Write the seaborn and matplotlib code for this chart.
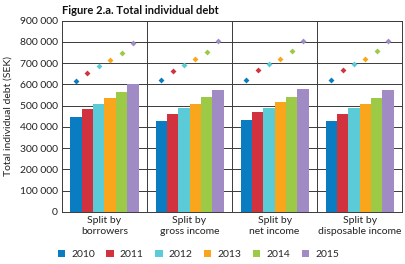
import pandas as pd
import matplotlib.pyplot as plt
import seaborn as sns
from matplotlib.ticker import FuncFormatter

# Data
categories = ['Split by\nborrowers', 'Split by\ngross income',
              'Split by\nnet income', 'Split by\ndisposable income']
years = ['2010', '2011', '2012', '2013', '2014', '2015']
colors = ['#0a7cc1', '#d1323e', '#5ccbd8', '#f9a61c', '#9dca46', '#a08bc4']

# bar values (one list per year, one value per category)
bar_2010 = [449000, 430000, 433000, 430000]
bar_2011 = [485000, 462000, 468000, 462000]
bar_2012 = [507000, 489000, 491000, 487000]
bar_2013 = [534000, 509000, 515000, 507000]
bar_2014 = [562000, 539000, 542000, 536000]
bar_2015 = [600000, 572000, 576000, 573000]

# diamond markers
dot_2010 = [614000, 620000, 622000, 622000]
dot_2011 = [655000, 664000, 666000, 666000]
dot_2012 = [685000, 691000, 696000, 697000]
dot_2013 = [713000, 720000, 721000, 721000]
dot_2014 = [746000, 754000, 757000, 756000]
dot_2015 = [793000, 802000, 802000, 802000]

bars = [bar_2010, bar_2011, bar_2012, bar_2013, bar_2014, bar_2015]
dots = [dot_2010, dot_2011, dot_2012, dot_2013, dot_2014, dot_2015]

rows = []
for y, bv, dv in zip(years, bars, dots):
    for c, b, d in zip(categories, bv, dv):
        rows.append({'Category': c, 'Year': y, 'Bar': b, 'Dot': d})
df = pd.DataFrame(rows)

sns.set_style('white')
plt.rcParams['font.family'] = ['Lato', 'DejaVu Sans']

fig = plt.figure(figsize=(4.05, 2.64), dpi=100)
ax = fig.add_axes([0.153, 0.197, 0.840, 0.725])

palette = dict(zip(years, colors))
sns.barplot(data=df, x='Category', y='Bar', hue='Year', palette=palette,
            width=0.8, saturation=1, ax=ax, zorder=2, linewidth=0)
sns.stripplot(data=df, x='Category', y='Dot', hue='Year', palette=palette,
              dodge=True, jitter=False, marker='D', size=3, linewidth=0,
              ax=ax, zorder=3, legend=False)

ax.set_ylim(0, 900000)
ax.set_xlim(-0.5, 3.5)
ax.set_yticks(range(0, 900001, 100000))
ax.yaxis.set_major_formatter(FuncFormatter(lambda v, p: f'{int(v):,}'.replace(',', ' ')))
ax.set_xticks([0.5, 1.5, 2.5], minor=True)
ax.grid(axis='y', which='major', color='#3a3a3a', linewidth=0.7, zorder=0)
ax.grid(axis='x', which='minor', color='#3a3a3a', linewidth=0.7, zorder=0)
ax.set_axisbelow(True)
for s in ax.spines.values():
    s.set_color('#3a3a3a')
    s.set_linewidth(0.7)

ax.tick_params(axis='both', labelsize=7.5, colors='#222222', length=0, pad=3)
ax.set_xlabel('')
ax.set_ylabel('Total individual debt (SEK)', fontsize=7.5, color='#222222', labelpad=5)

fig.text(0.153, 0.962, 'Figure 2.a. Total individual debt', fontsize=8,
         fontweight='bold', color='#111111', ha='left', va='center')

handles, labels = ax.get_legend_handles_labels()
ax.get_legend().remove()
fig.legend(handles[:6], labels[:6], loc='center', bbox_to_anchor=(0.49, 0.035),
           ncol=6, frameon=False, fontsize=7.5, handlelength=0.7, handleheight=0.7,
           columnspacing=1.1, handletextpad=0.6)

plt.savefig('out.png', dpi=100)
plt.close()
